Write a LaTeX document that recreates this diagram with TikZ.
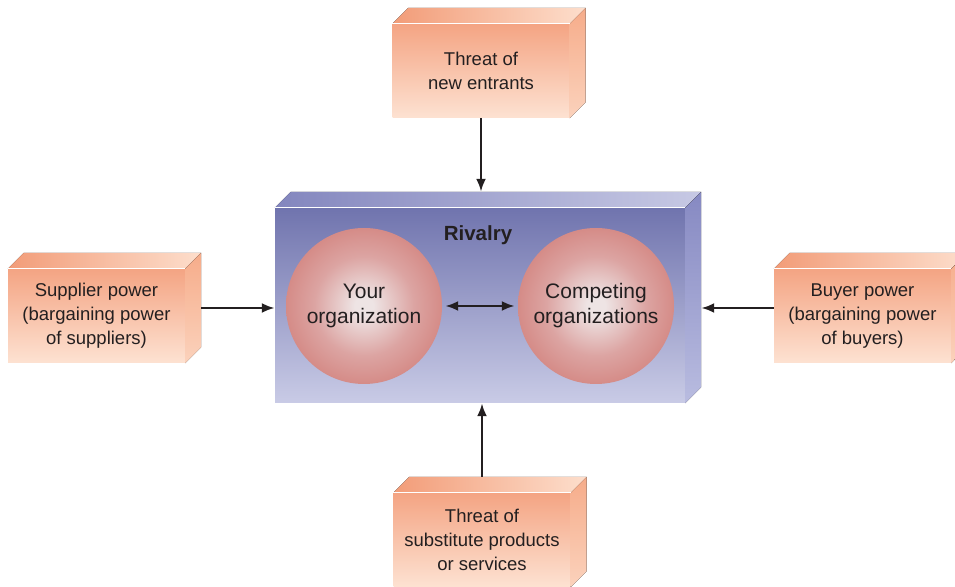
\documentclass[tikz,border=0pt]{standalone}
\usepackage{fontspec}
\setmainfont{Liberation Sans}
\usetikzlibrary{calc,arrows.meta}

% palette
\definecolor{txt}{HTML}{231F20}
\definecolor{orFrontTop}{HTML}{F4A483}
\definecolor{orFrontBot}{HTML}{FDE2D2}
\definecolor{orLidL}{HTML}{F29C78}
\definecolor{orLidR}{HTML}{FDDECC}
\definecolor{orSideT}{HTML}{F6AC8A}
\definecolor{orSideB}{HTML}{FBD2BC}
\definecolor{blFrontTop}{HTML}{7074AE}
\definecolor{blFrontBot}{HTML}{C9CBE6}
\definecolor{blLidL}{HTML}{8386BE}
\definecolor{blLidR}{HTML}{C7C9E4}
\definecolor{blSideT}{HTML}{8689C2}
\definecolor{blSideB}{HTML}{B9BCE0}
\definecolor{ballIn}{HTML}{EEE4E4}
\definecolor{ballMid}{HTML}{DCA4A2}
\definecolor{ballOut}{HTML}{CE736D}

\pgfdeclareradialshading{orgball}{\pgfpoint{0bp}{0bp}}{%
  color(0bp)=(ballIn); color(3bp)=(ballIn); color(16bp)=(ballMid);
  color(34bp)=(ballOut); color(60bp)=(ballOut)}

\tikzset{
  force/.style={minimum width=177pt, minimum height=94pt, inner sep=0pt,
    align=center, text=txt, font=\fontsize{18.5}{24}\selectfont,
    top color=orFrontTop, bottom color=orFrontBot},
  rivalbox/.style={minimum width=410pt, minimum height=195pt, inner sep=0pt,
    top color=blFrontTop, bottom color=blFrontBot},
  org/.style={circle, minimum size=156pt, inner sep=0pt, align=center,
    text=txt, font=\fontsize{21}{25}\selectfont, shading=orgball},
  arr/.style={draw=txt, line width=2.6pt, -{Latex[length=13pt,width=10pt]}},
  dblarr/.style={draw=txt, line width=2.6pt,
    {Latex[length=13pt,width=10pt]}-{Latex[length=13pt,width=10pt]},
    shorten <=3pt, shorten >=3pt},
}

\begin{document}
\begin{tikzpicture}[x=1pt, y=1pt]
  \useasboundingbox (0,0) rectangle (955,586);
  \clip (0,0) rectangle (955,586);

  % front faces
  \node[force] (top) at (481,515) {Threat of\\new entrants};
  \node[force] (left) at (96.5,270) {Supplier power\\(bargaining power\\of suppliers)};
  \node[force] (right) at (862.5,270) {Buyer power\\(bargaining power\\of buyers)};
  \node[force] (bottom) at (482,46) {Threat of\\substitute products\\or services};
  \node[rivalbox] (main) at (480,280.5) {};

  % lids and side faces of the orange blocks
  \foreach \n in {top,left,right,bottom}{
    \fill[left color=orLidL, right color=orLidR]
      (\n.north west) -- ++(16,16) -- ($(\n.north east)+(16,16)$)
      -- (\n.north east) -- cycle;
    \fill[top color=orSideT, bottom color=orSideB]
      (\n.north east) -- ++(16,16) -- ($(\n.south east)+(16,16)$)
      -- (\n.south east) -- cycle;
    \draw[white, line width=0.8pt] (\n.north west) -- (\n.north east);
  }

  % lid and side face of the rivalry block
  \fill[left color=blLidL, right color=blLidR]
    (main.north west) -- ++(16,16) -- ($(main.north east)+(16,16)$)
    -- (main.north east) -- cycle;
  \fill[top color=blSideT, bottom color=blSideB]
    (main.north east) -- ++(16,16) -- ($(main.south east)+(16,16)$)
    -- (main.south east) -- cycle;
  \draw[white, line width=0.8pt] (main.north west) -- (main.north east);

  % rivals
  \node[font=\bfseries\fontsize{20.5}{24}\selectfont, text=txt] (rivalry) at (478,351) {Rivalry};
  \node[org] (you) at (364,280) {Your\\organization};
  \node[org] (comp) at (596,280) {Competing\\organizations};
  \draw[dblarr] (you) -- (comp);

  % anchor points for the forces
  \coordinate (mlid) at ($(main.north west)+(16,16)$);
  \coordinate (mside) at ($(main.east)+(16,0)$);
  \coordinate (lside) at ($(left.east)+(16,8)$);
  \coordinate (blid) at ($(bottom.north)+(0,16)$);

  % forces acting on the rivalry block
  \draw[arr] (top) -- (top.south |- mlid);
  \draw[arr] (blid) -- (blid |- main.south);
  \draw[arr] (lside) -- (lside -| main.west);
  \draw[arr] (right.west |- lside) -- (mside |- lside);
\end{tikzpicture}
\end{document}
